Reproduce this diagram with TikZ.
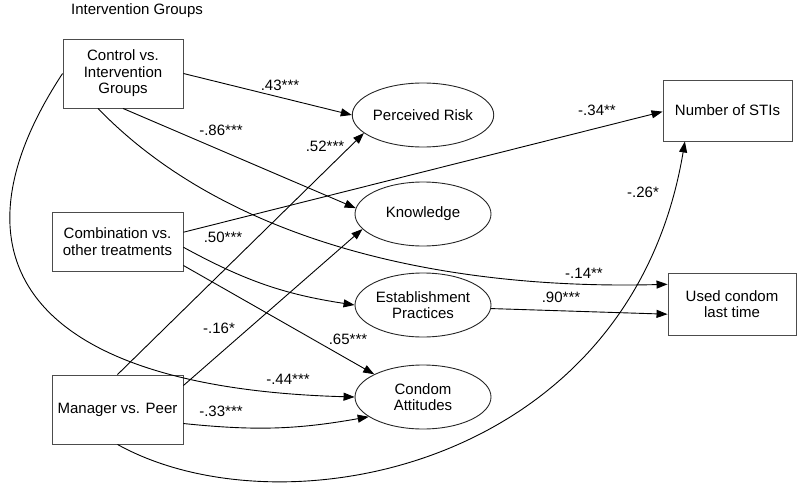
\documentclass[tikz,border=0pt]{standalone}
\usepackage{fontspec}
\setmainfont{Liberation Sans}
\usetikzlibrary{shapes}
\usetikzlibrary{positioning}
\usetikzlibrary{arrows.meta}

\begin{document}
\begin{tikzpicture}[x = 1pt, y = -1pt, line width = 0.9pt,
    font = \fontsize{15}{16.5}\selectfont,
    box/.style = {rectangle, draw = black!70, align = center, inner sep = 0pt},
    latent/.style = {ellipse, draw = black!85, align = center, inner sep = 0pt,
        minimum width = 136pt, minimum height = 64pt},
    coef/.style = {-{Triangle[length = 11pt, width = 8pt]}},
    est/.style = {inner sep = 0pt}]

    \useasboundingbox (0,0) rectangle (800,487);

    \node (title) at (137,11) {Intervention Groups};

    % predictors
    \node (CI) at (123,73.5) [box, minimum width = 120pt, minimum height = 69pt] {Control vs.\\Intervention\\Groups};
    \node (CO) at (117.5,241.5) [box, minimum width = 131pt, minimum height = 59pt] {Combination vs.\\other treatments};
    \node (MP) at (117.5,409.5) [box, minimum width = 131pt, minimum height = 69pt] {Manager vs. Peer};

    % mediators
    \node (PR) at (423,115) [latent] {Perceived Risk};
    \node (KN) at (423,214) [latent] {Knowledge};
    \node (EP) at (423,305) [latent] {Establishment\\Practices};
    \node (CA) at (423,397) [latent] {Condom\\Attitudes};

    % outcomes
    \node (STI) at (727.5,110.5) [box, minimum width = 129pt, minimum height = 61pt] {Number of STIs};
    \node (UC) at (732,304) [box, minimum width = 128pt, minimum height = 62pt] {Used condom\\last time};

    % paths
    \draw[coef] (CI.east) -- (PR.west);
    \draw[coef] (CI.south) -- (KN.175);
    \draw[coef] ([xshift = -25pt]CI.south) .. controls (230,245) and (450,290) .. (UC.163);
    \draw[coef] (CI.west) .. controls (-60,260) and (30,388) .. (CA.west);

    \draw[coef] (CO.8) -- (STI.181);
    \draw[coef] (CO.-5) to[bend right = 10] (EP.west);
    \draw[coef] (CO.-20) -- (CA.155);

    \draw[coef] (MP.north) -- (PR.197);
    \draw[coef] (MP.20) -- (KN.194);
    \draw[coef] (MP.-12) to[bend right = 8] (CA.200);
    \draw[coef] (MP.south) .. controls (280,535) and (630,470) .. (STI.216);

    \draw[coef] (EP.-3) -- (UC.189);

    % estimates
    \node (e1) at (280,85) [est] {.43***};
    \node (e2) at (221,130) [est] {-.86***};
    \node (e3) at (325,146) [est] {.52***};
    \node (e4) at (223,237) [est] {.50***};
    \node (e5) at (597,110) [est] {-.34**};
    \node (e6) at (643,192) [est] {-.26*};
    \node (e7) at (584,273) [est] {-.14**};
    \node (e8) at (561,297) [est] {.90***};
    \node (e9) at (219,328) [est] {-.16*};
    \node (e10) at (348,339) [est] {.65***};
    \node (e11) at (288,379) [est] {-.44***};
    \node (e12) at (221,411) [est] {-.33***};

\end{tikzpicture}
\end{document}
